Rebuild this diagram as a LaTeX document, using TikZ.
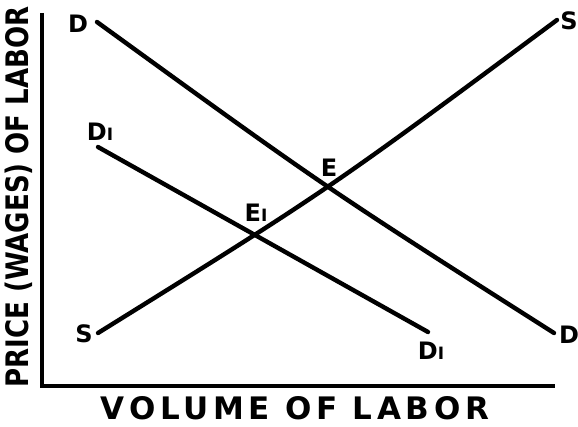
\documentclass[tikz,border=0pt]{standalone}
\usepackage{fontspec}
\setmainfont{DejaVu Sans}
\usepackage{tikz}
\usetikzlibrary{positioning}
\tikzset{
  curve/.style={line width=4.4pt,line cap=round,black},
  axis/.style={line width=3.2pt,black},
  tag/.style={font=\fontsize{24}{24}\selectfont\bfseries,inner sep=0pt},
  axis label/.style={font=\fontsize{31}{31}\selectfont\bfseries,inner sep=0pt}
}
\newcommand{\sub}[1]{{\fontsize{17}{17}\selectfont #1}}
\begin{document}
\begin{tikzpicture}[x=1pt,y=-1pt]
    \useasboundingbox (0,0) rectangle (578,427);
    % Axes
    \coordinate (top) at (42,13);
    \coordinate (origin) at (42,386);
    \coordinate (right) at (555,386);
    \draw[axis] (top) -- (origin) -- (right);
    \node[axis label,rotate=90] (ylab) at (19,197)
      {\scalebox{0.84}[1]{PRICE (WAGES) OF LABOR}};
    \node[axis label] (xlab) at (295,408)
      {\addfontfeatures{LetterSpace=15}VOLUME OF LABOR};
    % Demand
    \coordinate (d start) at (97,22);
    \coordinate (d ctrl) at (326,188);
    \coordinate (d end) at (554,333);
    \draw[curve] (d start) .. controls (d ctrl) .. (d end);
    \node[tag] (d top) at (78,24) {D};
    \node[tag] (d bottom) at (569,335) {D};
    % Shifted demand
    \coordinate (d1 start) at (98,147);
    \coordinate (d1 end) at (428,332);
    \draw[curve] (d1 start) -- (d1 end);
    \node[tag] (d1 top) at (100,132) {D\sub{I}};
    \node[tag] (d1 bottom) at (431,351) {D\sub{I}};
    % Supply
    \coordinate (s start) at (98,333);
    \coordinate (s ctrl) at (328,190);
    \coordinate (s end) at (557,20);
    \draw[curve] (s start) .. controls (s ctrl) .. (s end);
    \node[tag] (s bottom) at (84,334) {S};
    \node[tag] (s top) at (569,21) {S};
    % Equilibria
    \node[tag] (e) at (329,168) {E};
    \node[tag] (e1) at (256,213) {E\sub{I}};
\end{tikzpicture}
\end{document}
